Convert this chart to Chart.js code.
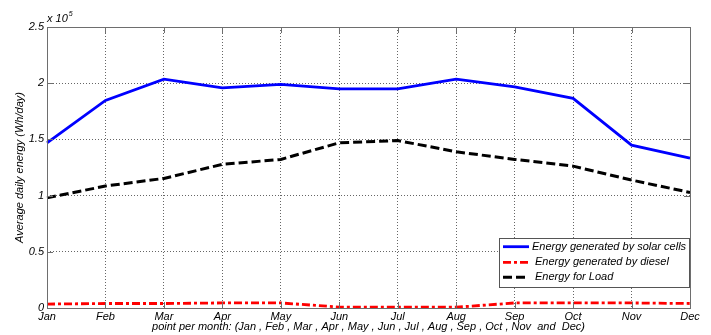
<!DOCTYPE html>
<html>
<head>
<meta charset="utf-8">
<title>Average daily energy</title>
<script src="https://cdn.jsdelivr.net/npm/chart.js@4/dist/chart.umd.min.js"></script>
<style>
  html, body { margin: 0; padding: 0; background: #ffffff; }
  #wrap { width: 711px; height: 335px; }
</style>
</head>
<body>
<div id="wrap"><canvas id="chart" width="711" height="335"></canvas></div>
<script>
// Monthly average daily energy, Wh/day
const months = ['Jan', 'Feb', 'Mar', 'Apr', 'May', 'Jun', 'Jul', 'Aug', 'Sep', 'Oct', 'Nov', 'Dec'];
const solarEnergy  = [147000, 184700, 203600, 195900, 199000, 195000, 195000, 203600, 196800, 186500, 144900, 133400];
const dieselEnergy = [3500, 4000, 4000, 4500, 4500, 800, 700, 700, 4500, 4500, 4500, 4000];
const loadEnergy   = [98000, 108500, 115300, 127800, 132200, 147000, 149000, 139000, 132200, 126200, 113800, 102800];
const yTickValues  = [0, 50000, 100000, 150000, 200000, 250000];
const seriesLabels = ['Energy generated by solar cells', 'Energy generated by diesel', 'Energy for Load'];

const FONT = '"Liberation Sans", Arial, sans-serif';

// Axes frame with inward tick marks on all four sides, plus the "x 10^5" exponent
const framePlugin = {
  id: 'frame',
  afterDatasetsDraw(chart) {
    const { ctx, chartArea: a, scales } = chart;
    const tick = 6;
    ctx.save();
    ctx.strokeStyle = '#6e6e6e';
    ctx.lineWidth = 1;
    ctx.setLineDash([]);
    ctx.strokeRect(Math.round(a.left) + 0.5, Math.round(a.top) + 0.5,
                   Math.round(a.right - a.left), Math.round(a.bottom - a.top));
    ctx.beginPath();
    scales.x.ticks.forEach((t, i) => {
      const x = Math.round(scales.x.getPixelForTick(i)) + 0.5;
      ctx.moveTo(x, a.bottom); ctx.lineTo(x, a.bottom - tick);
      ctx.moveTo(x, a.top); ctx.lineTo(x, a.top + tick);
    });
    scales.y.ticks.forEach((t, i) => {
      const y = Math.round(scales.y.getPixelForTick(i)) + 0.5;
      ctx.moveTo(a.left, y); ctx.lineTo(a.left + tick, y);
      ctx.moveTo(a.right, y); ctx.lineTo(a.right - tick, y);
    });
    ctx.stroke();

    // exponent label above the y axis
    ctx.fillStyle = '#000';
    ctx.textBaseline = 'alphabetic';
    ctx.textAlign = 'left';
    ctx.font = 'italic 11px ' + FONT;
    ctx.fillText('x 10', a.left, a.top - 5);
    const w = ctx.measureText('x 10').width;
    ctx.font = 'italic 7px ' + FONT;
    ctx.fillText('5', a.left + w + 1, a.top - 11);
    ctx.restore();
  }
};

// Boxed legend in the lower right of the plot area
const legendPlugin = {
  id: 'boxLegend',
  afterDraw(chart) {
    const { ctx, chartArea: a } = chart;
    const boxW = 191, boxH = 50;
    const x0 = a.right - boxW, y0 = 238;
    ctx.save();
    ctx.fillStyle = '#ffffff';
    ctx.fillRect(x0, y0, boxW, boxH);
    ctx.strokeStyle = '#555555';
    ctx.lineWidth = 1;
    ctx.setLineDash([]);
    ctx.strokeRect(x0 + 0.5, y0 + 0.5, boxW - 1, boxH - 1);
    const rows = [8.7, 24.3, 39.3];
    chart.data.datasets.forEach((ds, i) => {
      const y = y0 + rows[i];
      ctx.beginPath();
      ctx.strokeStyle = ds.borderColor;
      ctx.lineWidth = ds.borderWidth;
      ctx.setLineDash(ds.borderDash || []);
      ctx.moveTo(x0 + 4, y);
      ctx.lineTo(x0 + 30, y);
      ctx.stroke();
      ctx.setLineDash([]);
      ctx.fillStyle = '#000';
      ctx.font = 'italic 11px ' + FONT;
      ctx.textAlign = 'left';
      ctx.textBaseline = 'middle';
      ctx.fillText(ds.label, x0 + (i === 0 ? 33 : 36), y);
    });
    ctx.restore();
  }
};

new Chart(document.getElementById('chart'), {
  type: 'line',
  data: {
    labels: months,
    datasets: [
      {
        label: seriesLabels[0],
        data: solarEnergy,
        borderColor: '#0000ff',
        borderWidth: 2.8,
        pointRadius: 0,
        tension: 0,
        fill: false
      },
      {
        label: seriesLabels[1],
        data: dieselEnergy,
        borderColor: '#ff0000',
        borderWidth: 2.8,
        borderDash: [8, 3, 3, 3],
        pointRadius: 0,
        tension: 0,
        fill: false
      },
      {
        label: seriesLabels[2],
        data: loadEnergy,
        borderColor: '#000000',
        borderWidth: 3,
        borderDash: [9, 4],
        pointRadius: 0,
        tension: 0,
        fill: false
      }
    ]
  },
  options: {
    responsive: false,
    animation: false,
    devicePixelRatio: 1,
    layout: { padding: { top: 27, right: 21, left: 0, bottom: 0 } },
    plugins: {
      legend: { display: false },
      tooltip: { enabled: false }
    },
    scales: {
      x: {
        type: 'category',
        offset: false,
        grid: { color: '#666666', lineWidth: 1, drawTicks: false },
        border: { display: false, dash: [1, 2] },
        ticks: {
          color: '#000',
          font: { family: FONT, size: 11, style: 'italic' },
          maxRotation: 0,
          autoSkip: false,
          padding: 2
        },
        title: {
          display: true,
          text: 'point per month: (Jan , Feb , Mar , Apr , May , Jun , Jul , Aug , Sep , Oct , Nov  and  Dec)',
          color: '#000',
          font: { family: FONT, size: 11, style: 'italic' },
          padding: { top: 0, bottom: 1 }
        },
        afterFit(scale) { scale.height = 27; }
      },
      y: {
        min: 0,
        max: 250000,
        grid: { color: '#666666', lineWidth: 1, drawTicks: false },
        border: { display: false, dash: [1, 2] },
        afterBuildTicks(scale) { scale.ticks = yTickValues.map(v => ({ value: v })); },
        ticks: {
          color: '#000',
          font: { family: FONT, size: 11, style: 'italic' },
          padding: 3,
          callback: v => String(v / 1e5)
        },
        title: {
          display: true,
          text: 'Average daily energy (Wh/day)',
          color: '#000',
          font: { family: FONT, size: 11, style: 'italic' },
          padding: { top: 13, bottom: 0 }
        },
        afterFit(scale) { scale.width = 47; }
      }
    }
  },
  plugins: [framePlugin, legendPlugin]
});
</script>
</body>
</html>
